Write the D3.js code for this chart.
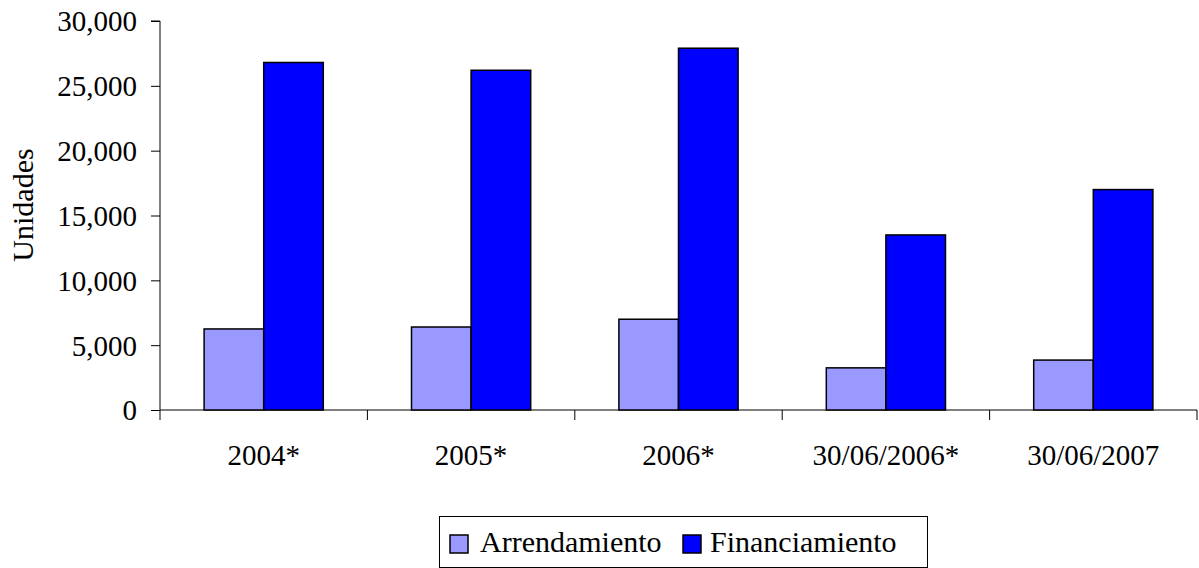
<!DOCTYPE html>
<html><head><meta charset="utf-8">
<script src="https://cdn.jsdelivr.net/npm/d3@7"></script>
<style>body{margin:0;background:#fff}svg{display:block}text{font-family:"Liberation Serif","Times New Roman",serif !important;fill:#000}</style>
</head><body><svg id="c" width="1199" height="568" font-family="Liberation Serif"></svg>
<script>
const categories = ["2004*","2005*","2006*","30/06/2006*","30/06/2007"];
const seriesNames = ["Arrendamiento","Financiamiento"];
const arrendamiento = [6250, 6400, 7000, 3250, 3850];
const financiamiento = [26800, 26200, 27900, 13500, 17000];
const yTicks = [0,5000,10000,15000,20000,25000,30000];
const colors = ["#9999ff","#0000ff"];

const svg = d3.select("#c");
const x0 = 160, x1 = 1197, yTop = 21, yBot = 410;
const x = d3.scaleBand().domain(categories).range([x0,x1]).paddingInner(0).paddingOuter(0);
const y = d3.scaleLinear().domain([0,30000]).range([yBot,yTop]);
const sub = d3.scaleBand().domain(seriesNames).range([0, x.bandwidth()]).paddingInner(0).paddingOuter(0.74);
const fmt = d3.format(",");
const FF = "Liberation Serif, Times New Roman, serif";

// y axis
const yAxis = svg.append("g").attr("transform",`translate(${x0},0)`)
  .call(d3.axisLeft(y).tickValues(yTicks).tickSize(9).tickPadding(14).tickFormat(fmt))
  .attr("font-family",FF);
yAxis.select(".domain").attr("stroke","#000").attr("d",`M-9,${yTop}H0V${yBot}`);
yAxis.selectAll("line").attr("stroke","#000");
yAxis.selectAll("text").style("font-size","29px").attr("dy","0.34em");

// x axis
const xAxis = svg.append("g").attr("transform",`translate(0,${yBot})`)
  .call(d3.axisBottom(x).tickSize(0)).attr("font-family",FF);
xAxis.select(".domain").attr("stroke","#000").attr("d",`M${x0},0H${x1}`);
xAxis.selectAll("text").style("font-size","29px").attr("y",55).attr("dy",0);
const bounds = categories.map(c=>x(c)).concat([x1]);
svg.append("g").selectAll("line").data(bounds).join("line")
  .attr("x1",d=>d).attr("x2",d=>d).attr("y1",yBot).attr("y2",yBot+10).attr("stroke","#000");

// bars
const data = categories.map((c,i)=>({c, vals:[arrendamiento[i], financiamiento[i]]}));
svg.append("g").selectAll("g").data(data).join("g")
  .attr("transform",d=>`translate(${x(d.c)},0)`)
  .selectAll("rect").data(d=>d.vals.map((v,j)=>({v,j})))
  .join("rect")
  .attr("x",d=>sub(seriesNames[d.j])).attr("width",sub.bandwidth())
  .attr("y",d=>y(d.v)).attr("height",d=>yBot-y(d.v))
  .attr("fill",d=>colors[d.j]).attr("stroke","#000").attr("stroke-width",1.5);

// y label
svg.append("text").attr("transform","translate(33,205) rotate(-90)")
  .attr("text-anchor","middle").style("font-size","30px").text("Unidades");

// legend
const lg = svg.append("g");
lg.append("rect").attr("x",439.5).attr("y",516.5).attr("width",488).attr("height",51)
  .attr("fill","#fff").attr("stroke","#000");
const items = [{n:seriesNames[0],c:colors[0],sx:450,tx:480},{n:seriesNames[1],c:colors[1],sx:683,tx:710}];
items.forEach(it=>{
  lg.append("rect").attr("x",it.sx).attr("y",535).attr("width",18).attr("height",18)
    .attr("fill",it.c).attr("stroke","#000").attr("stroke-width",1.5);
  lg.append("text").attr("x",it.tx).attr("y",552).style("font-size","30px").text(it.n);
});
</script></body></html>
